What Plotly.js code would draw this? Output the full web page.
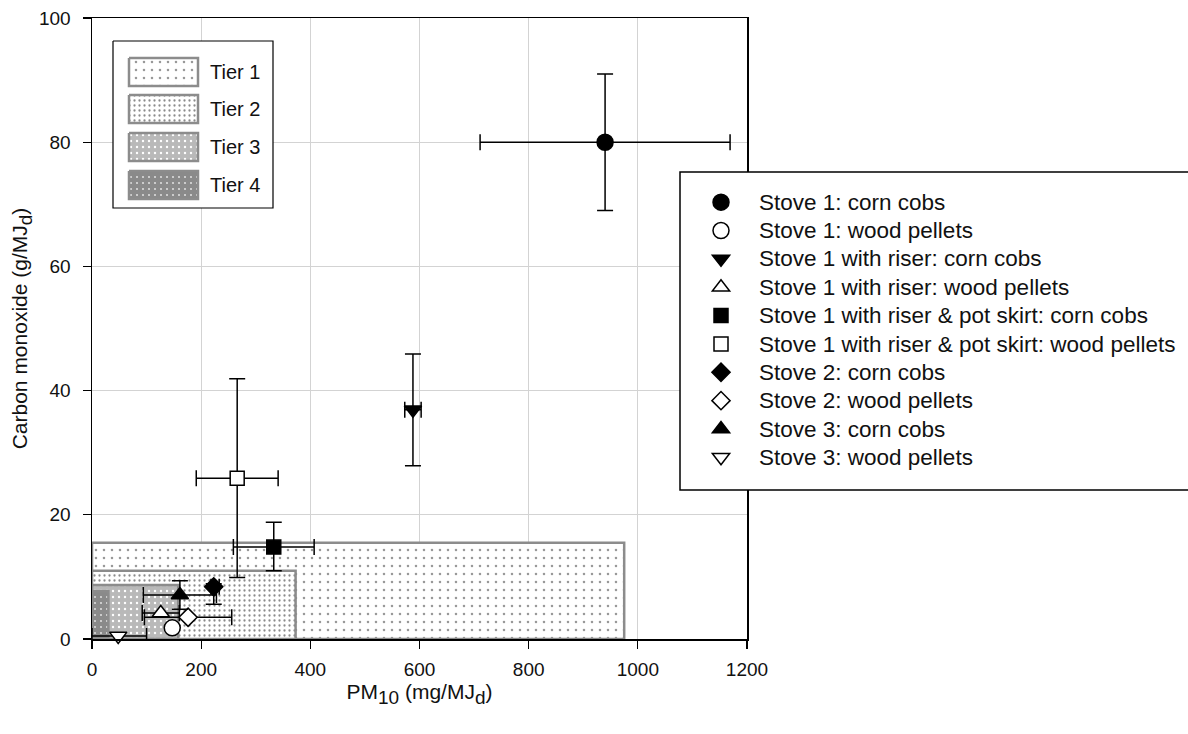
<!DOCTYPE html>
<html>
<head>
<meta charset="utf-8">
<script src="https://cdn.plot.ly/plotly-3.0.1.min.js"></script>
<style>html,body{margin:0;padding:0;background:#fff;}#chart{width:1188px;height:734px;}</style>
</head>
<body>
<div id="chart"></div>
<script>
// ---- data ----
const seriesNames = [
  "Stove 1: corn cobs",
  "Stove 1: wood pellets",
  "Stove 1 with riser: corn cobs",
  "Stove 1 with riser: wood pellets",
  "Stove 1 with riser & pot skirt: corn cobs",
  "Stove 1 with riser & pot skirt: wood pellets",
  "Stove 2: corn cobs",
  "Stove 2: wood pellets",
  "Stove 3: corn cobs",
  "Stove 3: wood pellets"
];
const pm10 = [940, 147, 588, 126, 333, 266, 223, 176, 161, 48];
const co = [80, 1.8, 36.9, 4.2, 14.8, 25.9, 8.4, 3.5, 7.1, 0.5];
const pmErrPlus = [229, 0, 15, 34, 74, 75, 10, 80, 67, 52];
const pmErrMinus = [229, 0, 15, 34, 74, 75, 5, 80, 67, 48];
const coErrPlus = [11, 0, 9, 0, 4, 16, 0.5, 0, 2.3, 0];
const coErrMinus = [11, 0, 9, 0, 3.8, 16, 2.8, 0, 2.3, 0];

const tierNames = ["Tier 1", "Tier 2", "Tier 3", "Tier 4"];
const tierPM = [975, 373, 158, 30];
const tierCO = [15.5, 11, 8.7, 7.7];

const xTicks = [0, 200, 400, 600, 800, 1000, 1200];
const yTicks = [0, 20, 40, 60, 80, 100];

// ---- styles ----
const symbols = ["circle","circle","triangle-down","triangle-up","square","square","diamond","diamond","triangle-up","triangle-down"];
const fills = ["black","white","black","white","black","white","black","white","black","white"];
const sizes = [16,16,15,15,14,14,14,14,15,15];
const tierPatterns = [
  {shape: ".", bgcolor: "white", fgcolor: "#999999", size: 8, solidity: 0.08},
  {shape: ".", bgcolor: "white", fgcolor: "#8c8c8c", size: 5, solidity: 0.16},
  {shape: ".", bgcolor: "#b9b9b9", fgcolor: "#ffffff", size: 6, solidity: 0.12},
  {shape: ".", bgcolor: "#8a8a8a", fgcolor: "#dcdcdc", size: 6, solidity: 0.1}
];
const tierLine = "#8c8c8c";

// plot area in pixels
const M = {l: 92, r: 1188 - 747, t: 18, b: 734 - 639, autoexpand: false};
const PW = 1188 - M.l - M.r, PH = 734 - M.t - M.b;
// tier legend layout (pixels relative to plot area top-left)
const TL = {x0: 21, x1: 181, y0: 23, y1: 190, sx0: 37, sx1: 106, sh: 28, rows: [54, 91, 129, 167], tx: 116};
// series legend box (figure pixels)
const LB = {x0: 680, x1: 1192, y0: 172, y1: 490, itemsLeft: 683, itemsTop: 183};
const px2x = p => (p - M.l) / PW;
const px2y = p => (M.t + PH - p) / PH;

const font = "Liberation Sans, Arial, sans-serif";
const traces = [];

// tier rectangles in data space
tierNames.forEach((n, i) => {
  traces.push({
    type: "scatter", mode: "lines", name: n, showlegend: false, hoverinfo: "skip",
    x: [0, tierPM[i], tierPM[i], 0, 0],
    y: [0, 0, tierCO[i], tierCO[i], 0],
    fill: "toself", fillcolor: tierPatterns[i].bgcolor, fillpattern: tierPatterns[i],
    line: {color: tierLine, width: 2.5}
  });
});

// data points
seriesNames.forEach((n, i) => {
  const hasX = pmErrPlus[i] > 0 || pmErrMinus[i] > 0;
  const hasY = coErrPlus[i] > 0 || coErrMinus[i] > 0;
  traces.push({
    type: "scatter", mode: "markers", legend: "legend2",
    name: "<span style='font-size:22.5px'>" + n + "</span>",
    x: [pm10[i]], y: [co[i]], cliponaxis: false,
    marker: {symbol: symbols[i], size: sizes[i], color: fills[i], line: {color: "black", width: 1.5}},
    error_x: {type: "data", symmetric: false, array: [pmErrPlus[i]], arrayminus: [pmErrMinus[i]], visible: hasX, color: "black", thickness: 1.5, width: 8},
    error_y: {type: "data", symmetric: false, array: [coErrPlus[i]], arrayminus: [coErrMinus[i]], visible: hasY, color: "black", thickness: 1.5, width: 8}
  });
});

// tier legend (overlay pixel axes)
traces.push({
  type: "scatter", mode: "lines", xaxis: "x2", yaxis: "y2", showlegend: false, hoverinfo: "skip",
  x: [TL.x0, TL.x1, TL.x1, TL.x0, TL.x0], y: [TL.y0, TL.y0, TL.y1, TL.y1, TL.y0],
  fill: "toself", fillcolor: "white", line: {color: "black", width: 1.2}
});
tierNames.forEach((n, i) => {
  const yc = TL.rows[i];
  traces.push({
    type: "scatter", mode: "lines", xaxis: "x2", yaxis: "y2", showlegend: false, hoverinfo: "skip",
    x: [TL.sx0, TL.sx1, TL.sx1, TL.sx0, TL.sx0],
    y: [yc - TL.sh / 2, yc - TL.sh / 2, yc + TL.sh / 2, yc + TL.sh / 2, yc - TL.sh / 2],
    fill: "toself", fillcolor: tierPatterns[i].bgcolor, fillpattern: tierPatterns[i],
    line: {color: tierLine, width: 2.5}
  });
});

const annotations = tierNames.map((n, i) => ({
  xref: "x2", yref: "y2", x: TL.tx, y: TL.rows[i], text: n, showarrow: false,
  xanchor: "left", yanchor: "middle", font: {family: font, size: 20, color: "#111"}
}));

const subStyle = "font-size:19px";
const layout = {
  width: 1188, height: 734,
  margin: M,
  paper_bgcolor: "white", plot_bgcolor: "white",
  showlegend: true,
  hovermode: false,
  xaxis: {
    range: [0, 1200], tickvals: xTicks, ticktext: xTicks.map(String),
    showgrid: true, gridcolor: "#d3d3d3", gridwidth: 1,
    zeroline: false, showline: true, linecolor: "black", linewidth: 1.5, mirror: true,
    ticks: "outside", ticklen: 8, tickwidth: 1.2, tickcolor: "black", ticklabelstandoff: 5,
    tickfont: {family: font, size: 19, color: "#111"},
    title: {text: "PM<sub><span style='" + subStyle + "'>10</span></sub> (mg/MJ<sub><span style='" + subStyle + "'>d</span></sub>)", font: {family: font, size: 21, color: "#111"}, standoff: 4},
    automargin: false
  },
  yaxis: {
    range: [0, 100], tickvals: yTicks, ticktext: yTicks.map(String),
    showgrid: true, gridcolor: "#d3d3d3", gridwidth: 1,
    zeroline: false, showline: true, linecolor: "black", linewidth: 1.5, mirror: true,
    ticks: "outside", ticklen: 8, tickwidth: 1.2, tickcolor: "black", ticklabelstandoff: 8,
    tickfont: {family: font, size: 19, color: "#111"},
    title: {text: "Carbon monoxide (g/MJ<sub><span style='" + subStyle + "'>d</span></sub>)", font: {family: font, size: 21, color: "#111"}, standoff: 5},
    automargin: false
  },
  xaxis2: {overlaying: "x", anchor: "y2", range: [0, PW], visible: false, fixedrange: true},
  yaxis2: {overlaying: "y", anchor: "x2", range: [PH, 0], visible: false, fixedrange: true},
  shapes: [{
    type: "rect", xref: "paper", yref: "paper", layer: "above",
    x0: px2x(LB.x0), x1: px2x(LB.x1), y0: px2y(LB.y1), y1: px2y(LB.y0),
    fillcolor: "white", line: {color: "black", width: 1.5}
  }],
  legend2: {
    x: px2x(LB.itemsLeft), y: px2y(LB.itemsTop), xanchor: "left", yanchor: "top",
    bgcolor: "rgba(0,0,0,0)", borderwidth: 0,
    font: {family: font, size: 19.5, color: "#111"},
    itemwidth: 66, traceorder: "normal"
  },
  annotations: annotations
};

Plotly.newPlot("chart", traces, layout, {staticPlot: true, displayModeBar: false});
</script>
</body>
</html>
